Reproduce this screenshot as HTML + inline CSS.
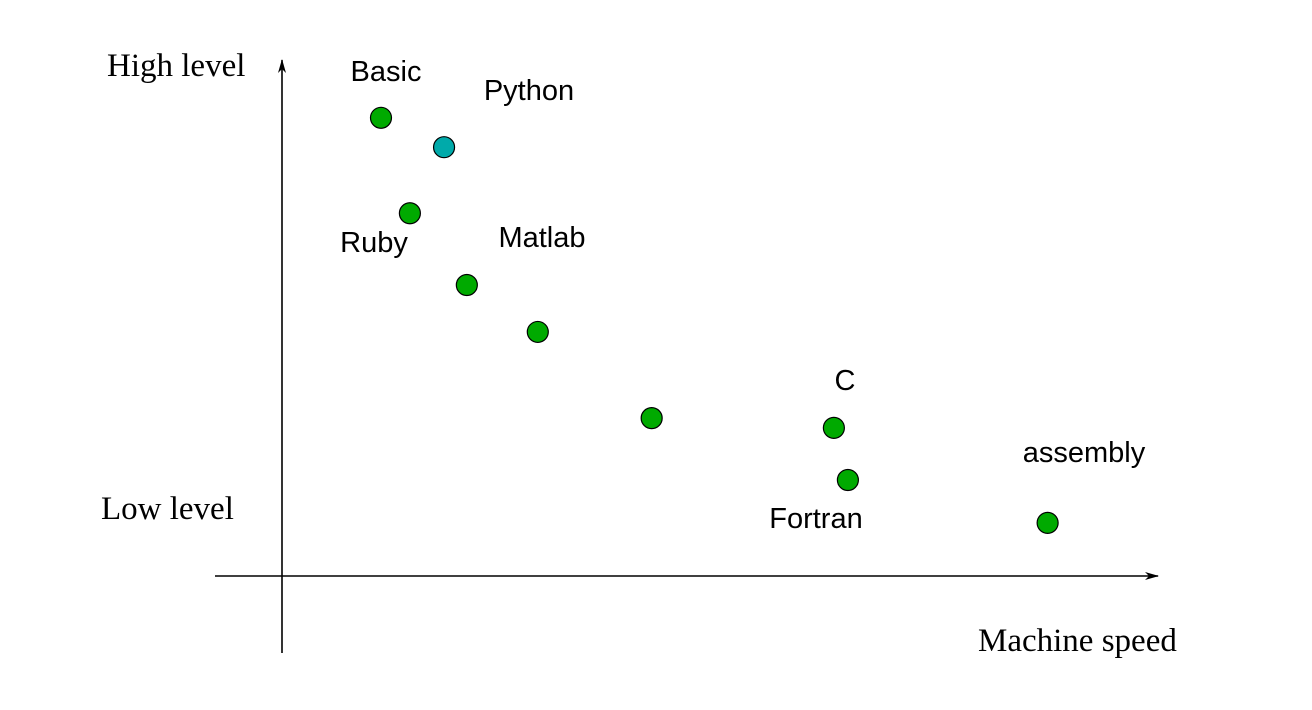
<!DOCTYPE html>
<html><head><meta charset="utf-8"><style>
html,body{margin:0;padding:0;background:#fff;}
svg{display:block;}
.lbl{font-family:"Liberation Sans",sans-serif;font-size:29px;fill:#000;}
.ax{font-family:"Liberation Serif",serif;font-size:33px;fill:#000;}
</style></head><body>
<svg id="chart" width="1312" height="710" viewBox="0 0 1312 710">
<defs><marker id="arr" markerWidth="14" markerHeight="8" refX="13" refY="4" orient="auto" markerUnits="userSpaceOnUse"><path d="M0,0 L14,4 L0,8 L4,4 Z" fill="#000"/></marker></defs>
<line x1="282" y1="653" x2="282" y2="60" stroke="#000" stroke-width="1.6" marker-end="url(#arr)"/>
<line x1="215" y1="576" x2="1158" y2="576" stroke="#000" stroke-width="1.6" marker-end="url(#arr)"/>
<text class="ax" x="107" y="76">High level</text>
<text class="ax" x="101" y="519">Low level</text>
<text class="ax" x="978" y="651">Machine speed</text>
<g id="marks"></g>
</svg>
<script>
const names=["Basic","Python","Ruby","p4","p5","p6","C","Fortran","assembly"];
const speed=[11.3,18.5,14.6,21.1,29.2,42.2,63.0,64.6,87.4];
const level=[88.8,83.1,70.3,56.4,47.3,30.6,28.7,18.6,10.3];
const colors=["#00aa00","#00aaaa","#00aa00","#00aa00","#00aa00","#00aa00","#00aa00","#00aa00","#00aa00"];
const labels=["Basic","Python","Ruby","Matlab","","","C","Fortran","assembly"];
const labelX=[386,529,374,542,0,0,845,816,1084];
const labelY=[81,100,252,247,0,0,390,528,462];
function xs(v){return 282+v*8.76;}
function ys(v){return 576-v*5.16;}
const g=document.getElementById('marks');
const NS="http://www.w3.org/2000/svg";
for(let i=0;i<names.length;i++){
  const c=document.createElementNS(NS,'circle');
  c.setAttribute('cx',xs(speed[i]));c.setAttribute('cy',ys(level[i]));
  c.setAttribute('r',10.5);c.setAttribute('fill',colors[i]);
  c.setAttribute('stroke','#000');c.setAttribute('stroke-width','1.2');
  
  
  g.appendChild(c);
  if(labels[i]){
    const t=document.createElementNS(NS,'text');
    t.setAttribute('class','lbl');t.setAttribute('x',labelX[i]);t.setAttribute('y',labelY[i]);
    t.setAttribute('text-anchor','middle');t.textContent=labels[i];
    
    
    g.appendChild(t);
  }
}
</script>
</body></html>
